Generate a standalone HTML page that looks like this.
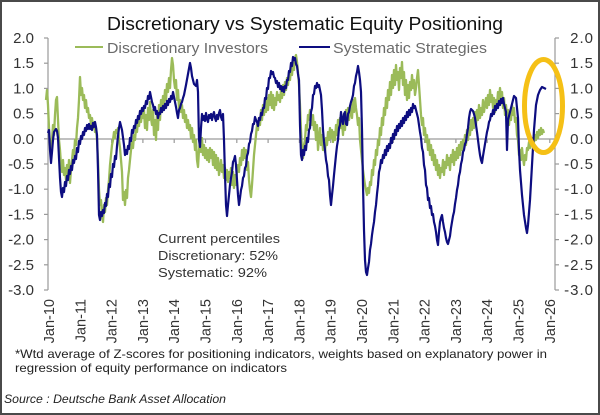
<!DOCTYPE html>
<html><head><meta charset="utf-8">
<style>
html,body{margin:0;padding:0;background:#fff;}
svg{display:block;}
text{font-family:"Liberation Sans",Arial,sans-serif;}
</style></head>
<body>
<svg width="600" height="415" viewBox="0 0 600 415" xmlns="http://www.w3.org/2000/svg">
<rect x="0" y="0" width="600" height="415" fill="#fff"/>
<rect x="1" y="1" width="598" height="413" fill="none" stroke="#4a4a4a" stroke-width="2"/>

<!-- Title -->
<text x="107" y="30" font-size="18" fill="#111" textLength="396" lengthAdjust="spacingAndGlyphs">Discretionary  vs Systematic Equity Positioning</text>

<!-- Legend -->
<line x1="75" y1="47" x2="103" y2="47" stroke="#9bbb59" stroke-width="2"/>
<text x="107" y="53" font-size="14.5" fill="#6b6b6b" textLength="161" lengthAdjust="spacingAndGlyphs">Discretionary Investors</text>
<line x1="299" y1="47" x2="330" y2="47" stroke="#0d0d80" stroke-width="2"/>
<text x="333" y="53" font-size="14.5" fill="#6b6b6b" textLength="154" lengthAdjust="spacingAndGlyphs">Systematic Strategies</text>

<!-- Axes -->
<g stroke="#9a9a9a" stroke-width="1.2" fill="none">
<line x1="48" y1="38" x2="48" y2="290"/>
<line x1="555" y1="38" x2="555" y2="290"/>
<line x1="48" y1="139" x2="555" y2="139"/>
<line x1="44" y1="38" x2="48" y2="38"/><line x1="44" y1="63.2" x2="48" y2="63.2"/><line x1="44" y1="88.4" x2="48" y2="88.4"/><line x1="44" y1="113.6" x2="48" y2="113.6"/><line x1="44" y1="138.8" x2="48" y2="138.8"/><line x1="44" y1="164" x2="48" y2="164"/><line x1="44" y1="189.2" x2="48" y2="189.2"/><line x1="44" y1="214.4" x2="48" y2="214.4"/><line x1="44" y1="239.6" x2="48" y2="239.6"/><line x1="44" y1="264.8" x2="48" y2="264.8"/><line x1="44" y1="290" x2="48" y2="290"/>
<line x1="555" y1="38" x2="559" y2="38"/><line x1="555" y1="63.2" x2="559" y2="63.2"/><line x1="555" y1="88.4" x2="559" y2="88.4"/><line x1="555" y1="113.6" x2="559" y2="113.6"/><line x1="555" y1="138.8" x2="559" y2="138.8"/><line x1="555" y1="164" x2="559" y2="164"/><line x1="555" y1="189.2" x2="559" y2="189.2"/><line x1="555" y1="214.4" x2="559" y2="214.4"/><line x1="555" y1="239.6" x2="559" y2="239.6"/><line x1="555" y1="264.8" x2="559" y2="264.8"/><line x1="555" y1="290" x2="559" y2="290"/>
<line x1="49" y1="139" x2="49" y2="143"/><line x1="80.3" y1="139" x2="80.3" y2="143"/><line x1="111.6" y1="139" x2="111.6" y2="143"/><line x1="142.9" y1="139" x2="142.9" y2="143"/><line x1="174.2" y1="139" x2="174.2" y2="143"/><line x1="205.5" y1="139" x2="205.5" y2="143"/><line x1="236.8" y1="139" x2="236.8" y2="143"/><line x1="268.1" y1="139" x2="268.1" y2="143"/><line x1="299.4" y1="139" x2="299.4" y2="143"/><line x1="330.7" y1="139" x2="330.7" y2="143"/><line x1="362" y1="139" x2="362" y2="143"/><line x1="393.3" y1="139" x2="393.3" y2="143"/><line x1="424.6" y1="139" x2="424.6" y2="143"/><line x1="455.9" y1="139" x2="455.9" y2="143"/><line x1="487.2" y1="139" x2="487.2" y2="143"/><line x1="518.5" y1="139" x2="518.5" y2="143"/><line x1="549.8" y1="139" x2="549.8" y2="143"/>
</g>

<!-- Left tick labels -->
<g font-size="15" fill="#333" text-anchor="end">
<text x="34" y="43">2.0</text><text x="34" y="68.2">1.5</text><text x="34" y="93.4">1.0</text><text x="34" y="118.6">0.5</text><text x="34" y="143.8">0.0</text><text x="34" y="169">-0.5</text><text x="34" y="194.2">-1.0</text><text x="34" y="219.4">-1.5</text><text x="34" y="244.6">-2.0</text><text x="34" y="269.8">-2.5</text><text x="34" y="295">-3.0</text>
</g>
<!-- Right tick labels -->
<g font-size="15" fill="#333" text-anchor="end" letter-spacing="1">
<text x="594" y="43">2.0</text><text x="594" y="68.2">1.5</text><text x="594" y="93.4">1.0</text><text x="594" y="118.6">0.5</text><text x="594" y="143.8">0.0</text><text x="594" y="169">-0.5</text><text x="594" y="194.2">-1.0</text><text x="594" y="219.4">-1.5</text><text x="594" y="244.6">-2.0</text><text x="594" y="269.8">-2.5</text><text x="594" y="295">-3.0</text>
</g>

<!-- X labels -->
<g font-size="14.5" fill="#333" text-anchor="end">
<text transform="translate(54,299) rotate(-90)">Jan-10</text>
<text transform="translate(85.3,299) rotate(-90)">Jan-11</text>
<text transform="translate(116.6,299) rotate(-90)">Jan-12</text>
<text transform="translate(147.9,299) rotate(-90)">Jan-13</text>
<text transform="translate(179.2,299) rotate(-90)">Jan-14</text>
<text transform="translate(210.5,299) rotate(-90)">Jan-15</text>
<text transform="translate(241.8,299) rotate(-90)">Jan-16</text>
<text transform="translate(273.1,299) rotate(-90)">Jan-17</text>
<text transform="translate(304.4,299) rotate(-90)">Jan-18</text>
<text transform="translate(335.7,299) rotate(-90)">Jan-19</text>
<text transform="translate(367,299) rotate(-90)">Jan-20</text>
<text transform="translate(398.3,299) rotate(-90)">Jan-21</text>
<text transform="translate(429.6,299) rotate(-90)">Jan-22</text>
<text transform="translate(460.9,299) rotate(-90)">Jan-23</text>
<text transform="translate(492.2,299) rotate(-90)">Jan-24</text>
<text transform="translate(523.5,299) rotate(-90)">Jan-25</text>
<text transform="translate(554.8,299) rotate(-90)">Jan-26</text>
</g>

<!-- Discretionary (green) -->
<polyline fill="none" stroke="#9bbb59" stroke-width="2.3" stroke-linejoin="round" points="46,100 47,90 48,105 49,128 50,145 51,150 52,140 53,125 54,135 55,115 56,100 57,97 58,120 59,140 60,150 61,165 62,172 63,160 64,175 65,168 66,180 67,165 68,175 69,160 70,183 71,170 72,160 73,150 74,155 75,140 76,145 77,128 78,118 79,100 80,77 81,95 82,88 83,100 84,95 85,108 86,100 87,112 88,108 89,118 90,115 91,125 92,118 93,128 94,122 95,132 96,128 97,140 98,160 99,190 100,205 101,200 102,215 103,222 104,205 105,212 106,198 107,205 108,190 109,180 110,165 111,155 112,145 113,140 114,132 115,138 116,130 117,133 118,128 119,140 120,148 121,160 122,172 123,200 124,192 125,205 126,190 127,198 128,178 129,170 130,160 131,150 132,142 133,148 134,135 135,140 136,128 137,132 138,120 139,126 140,115 141,122 142,112 143,118 144,110 145,128 146,115 147,130 148,108 149,120 150,102 151,118 152,125 153,110 154,135 155,120 156,140 157,112 158,130 159,105 160,120 161,100 162,112 163,96 164,104 165,90 166,100 167,84 168,92 169,78 170,88 171,70 172,58 173,65 174,80 175,88 176,80 177,100 178,90 179,108 180,100 181,112 182,105 183,118 184,110 185,122 186,115 187,128 188,120 189,130 190,125 191,138 192,128 193,142 194,135 195,150 196,140 197,160 198,167 199,150 200,140 201,152 202,138 203,155 204,145 205,158 206,148 207,160 208,150 209,162 210,148 211,158 212,150 213,165 214,152 215,168 216,155 217,170 218,158 219,175 220,168 221,160 222,172 223,165 224,178 225,168 226,180 227,170 228,182 229,172 230,178 231,168 232,185 233,172 234,188 235,175 236,185 237,170 238,165 239,172 240,158 241,165 242,150 243,160 244,148 245,158 246,150 247,170 248,162 249,180 250,190 251,197 252,185 253,170 254,155 255,145 256,135 257,125 258,130 259,118 260,125 261,110 262,120 263,105 264,115 265,100 266,112 267,98 268,110 269,95 270,105 271,92 272,108 273,95 274,110 275,98 276,105 277,92 278,100 279,95 280,102 281,90 282,98 283,85 284,95 285,82 286,90 287,78 288,85 289,72 290,80 291,68 292,75 293,62 294,70 295,58 296,55 297,62 298,72 299,85 300,105 301,130 302,150 303,158 304,145 305,140 306,125 307,130 308,115 309,120 310,110 311,118 312,125 313,115 314,130 315,122 316,140 317,125 318,150 319,138 320,128 321,145 322,135 323,150 324,140 325,152 326,138 327,145 328,132 329,140 330,128 331,138 332,130 333,142 334,132 335,140 336,125 337,135 338,120 339,130 340,118 341,128 342,122 343,135 344,118 345,130 346,110 347,125 348,108 349,120 350,112 351,105 352,118 353,100 354,112 355,98 356,108 357,115 358,125 359,118 360,140 361,150 362,160 363,170 364,178 365,185 366,190 367,195 368,188 369,193 370,182 371,185 372,170 373,175 374,160 375,165 376,150 377,155 378,140 379,145 380,128 381,135 382,118 383,125 384,108 385,115 386,98 387,108 388,90 389,100 390,82 391,95 392,75 393,88 394,70 395,85 396,65 397,80 398,72 399,90 400,68 401,78 402,62 403,85 404,72 405,95 406,80 407,100 408,85 409,98 410,82 411,90 412,75 413,88 414,80 415,95 416,88 417,78 418,70 419,85 420,100 421,115 422,125 423,118 424,135 425,128 426,142 427,135 428,150 429,140 430,155 431,145 432,160 433,150 434,165 435,155 436,170 437,160 438,175 439,165 440,178 441,168 442,172 443,160 444,175 445,162 446,168 447,155 448,165 449,158 450,170 451,155 452,162 453,150 454,165 455,152 456,160 457,148 458,158 459,145 460,155 461,142 462,150 463,140 464,148 465,135 466,145 467,130 468,140 469,128 470,135 471,120 472,130 473,118 474,128 475,112 476,125 477,110 478,120 479,105 480,118 481,108 482,115 483,100 484,112 485,105 486,98 487,108 488,95 489,105 490,90 491,102 492,95 493,108 494,98 495,112 496,100 497,105 498,92 499,100 500,88 501,98 502,92 503,108 504,98 505,115 506,105 507,118 508,110 509,125 510,112 511,120 512,105 513,115 514,108 515,122 516,118 517,135 518,140 519,155 520,150 521,160 522,148 523,158 524,165 525,155 526,160 527,148 528,150 529,142 530,148 531,140 532,145 533,138 534,142 535,135 536,140 537,132 538,138 539,130 540,135 541,128 542,134 543,130 544,133"/>

<!-- Systematic (navy) -->
<polyline fill="none" stroke="#0d0d80" stroke-width="2.2" stroke-linejoin="round" points="48,133 49,130 50,150 51,163 52,152 53,140 54,132 56,129 57,131 58,138 59,158 60,178 61,192 62,197 63,188 64,192 65,182 66,186 67,176 68,180 69,170 70,174 71,166 72,170 73,160 74,163 75,156 76,159 77,148 78,152 79,141 80,144 81,136 82,139 83,132 84,135 85,128 86,131 87,125 88,129 89,124 90,129 91,126 92,130 93,123 94,127 95,122 96,127 97,135 98,170 99,215 100,220 101,212 102,216 103,210 104,213 105,203 106,206 107,194 108,197 109,184 110,187 111,174 112,177 113,164 114,167 115,156 116,159 117,146 118,136 119,128 120,122 121,126 122,130 124,145 125,155 126,150 127,154 128,146 129,149 130,138 131,141 132,130 133,133 134,126 135,128 136,120 137,123 138,116 139,119 140,111 141,114 142,108 143,111 144,106 145,108 146,101 147,104 148,96 149,99 150,92 151,97 152,102 153,105 154,110 155,107 156,114 157,111 158,118 159,113 160,114 161,108 162,112 163,106 164,110 165,104 166,108 167,101 168,105 169,99 170,102 171,96 172,99 173,92 174,97 175,102 176,107 177,113 178,118 179,110 180,108 181,104 182,102 183,98 184,95 186,85 188,74 190,63 191,68 192,76 194,84 196,86 197,80 198,92 199,140 200,147 201,128 202,114 203,120 204,116 205,121 206,113 207,119 208,122 209,115 210,118 211,114 212,120 213,115 214,112 215,118 216,121 217,115 218,119 219,113 220,110 221,117 222,120 223,114 224,140 225,175 226,205 227,216 228,205 230,185 231,178 232,172 233,162 234,160 235,156 236,165 237,180 238,195 239,205 240,198 241,190 242,186 243,178 244,176 245,168 246,166 247,156 248,153 249,144 250,142 251,134 252,131 253,124 254,124 255,117 256,120 257,122 258,126 259,118 260,120 261,113 262,115 263,108 264,108 265,98 266,99 267,88 268,89 269,78 270,78 271,71 272,74 273,72 274,77 275,78 276,83 277,81 278,87 279,83 280,89 281,86 282,91 283,87 284,92 285,86 286,88 287,80 288,80 289,71 290,72 291,63 292,66 293,57 294,60 295,58 296,64 297,66 298,74 299,80 300,125 301,155 302,160 303,150 304,155 305,146 306,150 307,138 308,142 309,130 310,128 311,112 312,108 313,95 314,94 315,86 316,88 317,83 318,87 319,85 320,90 321,95 322,110 323,130 324,142 325,150 326,160 327,165 328,176 329,180 330,195 331,205 332,195 333,186 334,175 335,165 336,155 337,146 338,140 339,128 340,125 341,112 342,120 343,124 344,114 345,112 346,124 347,125 348,114 349,112 350,106 351,102 352,99 353,95 354,86 355,83 356,76 357,72 358,66 359,72 360,80 361,92 362,130 363,185 364,230 365,260 366,272 367,275 368,268 369,262 370,250 371,244 372,235 373,228 374,222 375,212 376,205 377,194 378,185 379,172 380,168 381,160 382,163 383,155 384,158 385,150 386,155 387,146 388,151 389,144 390,148 391,138 392,143 393,134 394,139 395,130 396,135 397,126 398,131 399,124 400,128 401,121 402,126 403,118 404,123 405,116 406,120 407,112 408,117 409,110 410,115 411,108 412,112 413,104 414,108 415,106 416,110 417,114 418,118 420,132 421,138 422,148 423,152 424,165 425,170 426,185 427,188 428,200 429,198 430,208 431,206 432,215 433,214 434,222 435,226 436,232 437,240 438,245 439,232 440,222 441,218 442,215 443,222 444,228 445,232 446,238 447,242 448,244 449,240 450,236 451,228 452,222 453,216 454,212 455,204 456,198 457,190 458,185 459,176 460,172 461,164 462,160 463,152 464,150 465,144 466,142 467,134 468,128 469,118 470,112 471,109 472,110 473,111 474,114 475,118 476,125 477,132 478,140 479,148 480,155 481,160 482,163 483,156 484,150 485,144 486,138 487,132 488,128 489,122 490,120 491,114 492,116 493,110 494,114 495,106 496,110 497,104 498,108 499,101 500,105 501,99 502,103 503,98 504,104 505,108 506,112 507,150 508,120 510,112 512,104 514,96 516,98 518,118 519,150 520,170 522,195 524,215 526,228 527,233 528,225 530,200 532,165 534,130 536,105 538,95 540,90 542,87 544,88 546,89"/>

<!-- Highlight ellipse -->
<ellipse cx="543.5" cy="106" rx="19" ry="46.5" fill="none" stroke="#f5c016" stroke-width="5"/>

<!-- Annotation -->
<g font-size="13" fill="#333">
<text x="158" y="243" textLength="122" lengthAdjust="spacingAndGlyphs">Current percentiles</text>
<text x="158" y="260" textLength="120" lengthAdjust="spacingAndGlyphs">Discretionary: 52%</text>
<text x="158" y="277" textLength="109" lengthAdjust="spacingAndGlyphs">Systematic: 92%</text>
</g>

<!-- Footnotes -->
<g font-size="12" fill="#222">
<text x="15" y="358" textLength="532" lengthAdjust="spacingAndGlyphs">*Wtd average of Z-scores for positioning indicators, weights based on explanatory power in</text>
<text x="15" y="372" textLength="272" lengthAdjust="spacingAndGlyphs">regression of equity performance on indicators</text>
<text x="4" y="403" font-style="italic" textLength="222" lengthAdjust="spacingAndGlyphs">Source : Deutsche Bank Asset Allocation</text>
</g>
</svg>
</body></html>
